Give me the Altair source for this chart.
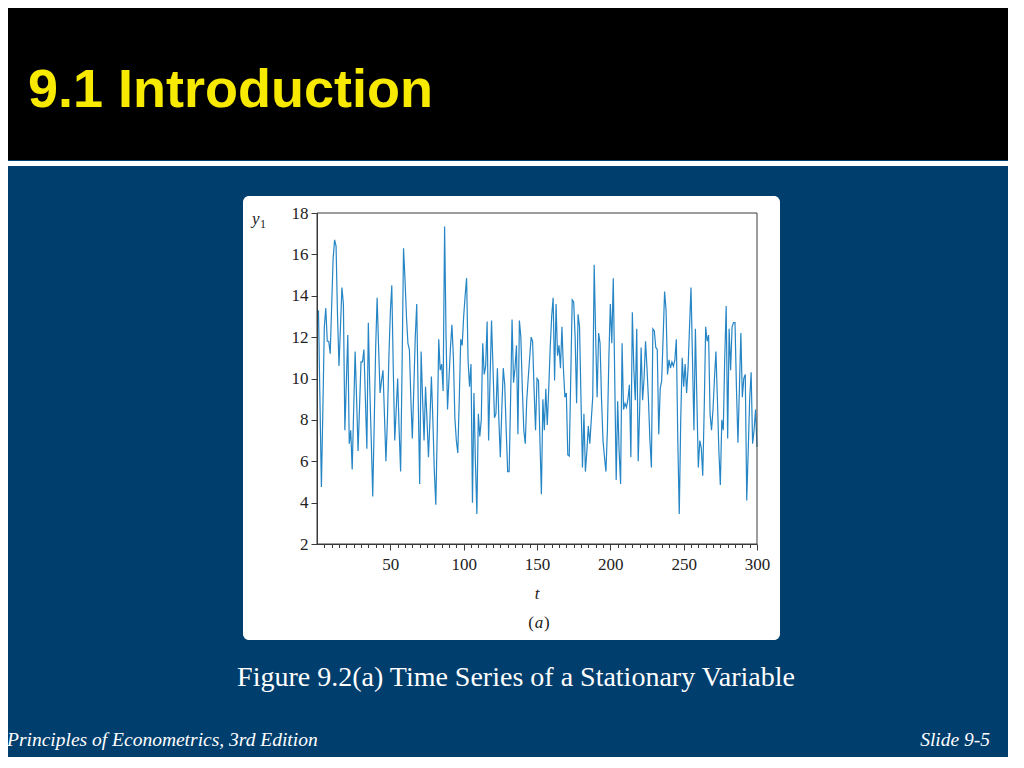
import altair as alt
import pandas as pd

# ---- data ----
t_values = list(range(1, 301))
y1_values = [
    13.3, 9.0, 4.75, 8.5, 12.5, 13.4, 11.8, 11.8, 11.2, 13.5,
    15.8, 16.7, 16.4, 13.0, 10.6, 12.5, 14.4, 13.6, 7.5, 9.8,
    12.1, 6.85, 7.5, 5.6, 8.5, 11.3, 9.0, 6.5, 8.6, 10.8,
    10.8, 11.4, 9.0, 6.6, 12.7, 9.5, 7.0, 4.3, 7.8, 11.5,
    13.9, 11.5, 9.3, 9.9, 10.4, 8.2, 6.0, 8.0, 11.0, 13.2,
    14.5, 10.5, 7.0, 8.5, 10.0, 7.5, 5.5, 10.5, 16.3, 14.8,
    13.0, 11.7, 11.4, 9.0, 7.1, 9.5, 12.0, 13.6, 9.0, 4.9,
    11.3, 9.0, 7.0, 9.6, 8.0, 6.2, 8.0, 10.1, 8.0, 5.5,
    3.9, 7.5, 11.9, 10.4, 10.7, 9.4, 17.35, 12.0, 8.5, 10.0,
    11.5, 12.6, 11.0, 8.1, 7.0, 6.4, 9.0, 11.9, 11.6, 13.0,
    14.0, 14.85, 10.9, 9.6, 10.7, 4.0, 9.3, 6.0, 3.45, 8.3,
    7.2, 8.0, 11.7, 10.2, 10.6, 12.75, 7.0, 10.0, 12.8, 10.5,
    8.1, 8.3, 10.5, 8.0, 6.2, 8.5, 10.5, 9.7, 7.5, 5.5,
    5.5, 9.0, 12.85, 9.8, 10.5, 11.6, 7.3, 12.8, 12.0, 9.5,
    7.5, 6.85, 8.95, 10.0, 11.0, 12.0, 11.8, 9.5, 7.5, 10.0,
    9.9, 7.0, 4.4, 9.0, 7.5, 9.5, 7.75, 9.5, 11.5, 13.0,
    13.9, 9.9, 13.6, 11.1, 11.6, 10.5, 12.5, 10.5, 9.1, 9.3,
    6.3, 6.25, 10.0, 13.8, 13.7, 12.0, 8.8, 13.1, 12.5, 9.0,
    5.7, 8.3, 5.5, 6.5, 7.7, 6.85, 8.0, 9.1, 15.5, 12.0,
    9.1, 12.2, 11.7, 9.0, 7.0, 6.2, 5.5, 7.5, 11.0, 13.6,
    11.7, 14.85, 10.0, 5.1, 8.9, 6.5, 4.9, 11.7, 8.5, 8.8,
    8.6, 9.0, 9.7, 6.2, 13.2, 10.5, 8.95, 12.4, 6.0, 8.5,
    11.5, 8.95, 10.0, 11.8, 10.5, 8.95, 7.0, 5.7, 12.4, 12.3,
    11.5, 11.4, 7.3, 9.5, 9.9, 12.0, 14.2, 13.3, 10.2, 10.9,
    10.5, 10.8, 10.6, 10.9, 11.9, 7.0, 3.45, 8.0, 11.0, 9.6,
    10.7, 9.3, 10.5, 12.5, 14.4, 11.0, 7.5, 12.4, 9.0, 5.7,
    7.0, 6.65, 5.3, 8.5, 12.5, 11.8, 12.1, 8.3, 7.5, 8.5,
    10.0, 11.3, 9.0, 6.5, 4.85, 8.0, 7.5, 11.0, 13.5, 7.1,
    12.4, 10.4, 12.5, 12.7, 12.7, 9.5, 6.9, 9.5, 12.2, 9.1,
    10.0, 10.2, 4.1, 6.5, 9.0, 10.3, 6.85, 7.5, 8.5, 6.7,
]
x_tick_values = list(range(5, 301, 5))
y_tick_values = list(range(2, 19, 2))

slide_title = "9.1 Introduction"
caption = "Figure 9.2(a) Time Series of a Stationary Variable"
footer_left = "Principles of Econometrics, 3rd Edition"
footer_right = "Slide 9-5"

series = pd.DataFrame({"t": t_values, "y1": y1_values})
one = pd.DataFrame({"k": [0]})

BLUE_BG = "#003E6D"
LINE = "#2585C5"
AXIS = "#3a3a3a"
SERIF = "Liberation Serif"

x_scale = alt.Scale(domain=[0, 300], nice=False, zero=False)
y_scale = alt.Scale(domain=[2, 18], nice=False, zero=False)

# ---- slide chrome ----
black_band = alt.Chart(one).mark_rect(color="#000000").encode(
    x=alt.value(-309), x2=alt.value(700), y=alt.value(-210), y2=alt.value(-53))
white_line = alt.Chart(one).mark_rect(color="#ffffff").encode(
    x=alt.value(-309), x2=alt.value(700), y=alt.value(-52), y2=alt.value(-47))
title = alt.Chart(one).mark_text(
    font="Liberation Sans", fontSize=54, fontWeight="bold", color="#F7EA00",
    align="left", baseline="alphabetic").encode(
    x=alt.value(-289), y=alt.value(-106), text=alt.value(slide_title))
panel = alt.Chart(one).mark_rect(color="#ffffff", cornerRadius=6).encode(
    x=alt.value(-74), x2=alt.value(463), y=alt.value(-17), y2=alt.value(427))

# ---- plot ----
line = alt.Chart(series).mark_line(color=LINE, strokeWidth=1.2).encode(
    x=alt.X("t:Q", scale=x_scale, title=None,
            axis=alt.Axis(values=x_tick_values, tickCount=200, grid=False, zindex=1,
                          format="d",
                          labelExpr="datum.value % 50 === 0 ? datum.label : ''",
                          tickSize={"condition": {"test": "datum.value % 50 === 0", "value": 6}, "value": 3.5},
                          labelOverlap=False, labelFlush=False, labelPadding=6,
                          labelFont=SERIF, labelFontSize=17, labelColor="#222",
                          domainColor=AXIS, tickColor=AXIS)),
    y=alt.Y("y1:Q", scale=y_scale, title=None,
            axis=alt.Axis(values=y_tick_values, tickCount=50, grid=False, zindex=1,
                          format="d",
                          tickSize=6, labelPadding=3, labelFlush=False, labelOverlap=False,
                          labelFont=SERIF, labelFontSize=17, labelColor="#222",
                          domainColor=AXIS, tickColor=AXIS)),
)
frame = alt.Chart(one).mark_rect(fillOpacity=0, stroke=AXIS, strokeWidth=1).encode(
    x=alt.X(datum=0, scale=x_scale), x2=alt.X2(datum=300),
    y=alt.Y(datum=2, scale=y_scale), y2=alt.Y2(datum=18))

y_lab = alt.Chart(one).mark_text(font=SERIF, fontSize=17, fontStyle="italic",
                                 color="#222", align="left").encode(
    x=alt.value(-65), y=alt.value(6), text=alt.value("y"))
y_sub = alt.Chart(one).mark_text(font=SERIF, fontSize=12, color="#222", align="left").encode(
    x=alt.value(-57), y=alt.value(11), text=alt.value("1"))
t_lab = alt.Chart(one).mark_text(font=SERIF, fontSize=17, fontStyle="italic",
                                 color="#222", align="center").encode(
    x=alt.value(220), y=alt.value(381), text=alt.value("t"))
a_open = alt.Chart(one).mark_text(font=SERIF, fontSize=17, color="#222", align="right").encode(
    x=alt.value(217), y=alt.value(410), text=alt.value("("))
a_mid = alt.Chart(one).mark_text(font=SERIF, fontSize=17, fontStyle="italic",
                                 color="#222", align="center").encode(
    x=alt.value(222), y=alt.value(410), text=alt.value("a"))
a_close = alt.Chart(one).mark_text(font=SERIF, fontSize=17, color="#222", align="left").encode(
    x=alt.value(227), y=alt.value(410), text=alt.value(")"))

cap = alt.Chart(one).mark_text(font=SERIF, fontSize=28, color="#ffffff", align="center").encode(
    x=alt.value(199), y=alt.value(465), text=alt.value(caption))
foot_l = alt.Chart(one).mark_text(font=SERIF, fontSize=19.5, fontStyle="italic",
                                  color="#ffffff", align="left").encode(
    x=alt.value(-310), y=alt.value(527), text=alt.value(footer_left))
foot_r = alt.Chart(one).mark_text(font=SERIF, fontSize=19.5, fontStyle="italic",
                                  color="#ffffff", align="right").encode(
    x=alt.value(673), y=alt.value(527), text=alt.value(footer_right))

chart = alt.layer(
    black_band, white_line, title, panel, line, frame,
    y_lab, y_sub, t_lab, a_open, a_mid, a_close, cap, foot_l, foot_r,
).properties(
    width=440, height=331,
    autosize=alt.AutoSizeParams(type="none"),
    padding={"left": 309, "top": 205, "right": 251, "bottom": 213},
    background=BLUE_BG,
).configure_view(strokeWidth=0)

chart.save("out.html", embed_options={"renderer": "svg", "actions": False})
